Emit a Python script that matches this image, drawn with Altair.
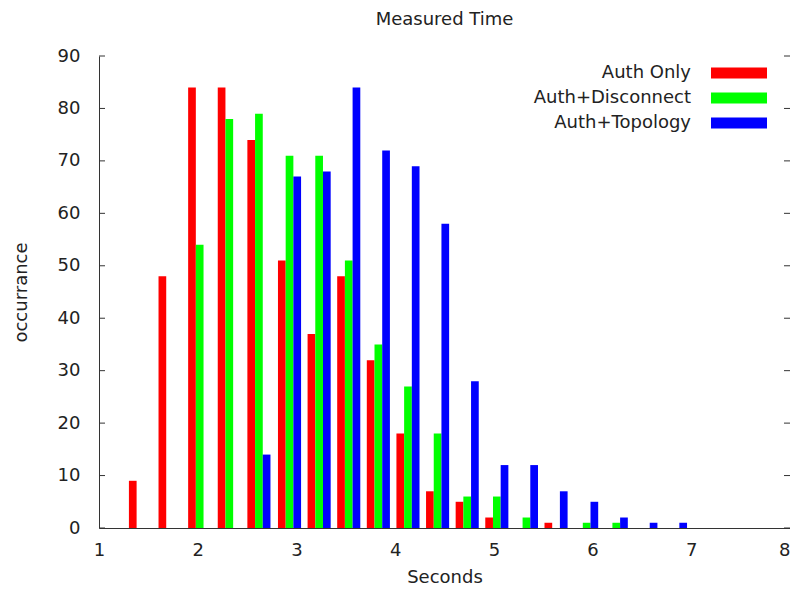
import altair as alt
import pandas as pd

# ---- data ----
group_centers = [1.42, 1.72, 2.02, 2.32, 2.62, 2.93, 3.23, 3.53, 3.83, 4.13,
                 4.43, 4.73, 5.03, 5.33, 5.63, 5.94, 6.24, 6.54, 6.84]
auth_only       = [9, 48, 84, 84, 74, 51, 37, 48, 32, 18, 7, 5, 2, 0, 1, 0, 0, 0, 0]
auth_disconnect = [0, 0, 54, 78, 79, 71, 71, 51, 35, 27, 18, 6, 6, 2, 0, 1, 1, 0, 0]
auth_topology   = [0, 0, 0, 0, 14, 67, 68, 84, 72, 69, 58, 28, 12, 12, 7, 5, 2, 1, 1]
series_names = ["Auth Only", "Auth+Disconnect", "Auth+Topology"]
series_colors = ["#ff0000", "#00ff00", "#0000ff"]
x_ticks = [1, 2, 3, 4, 5, 6, 7, 8]
y_ticks = [0, 10, 20, 30, 40, 50, 60, 70, 80, 90]
bar_width = 0.078

W, H = 691, 472
FONT = "DejaVu Sans"
TXT = "#222222"

rows = []
for si, (name, vals) in enumerate(zip(series_names, [auth_only, auth_disconnect, auth_topology])):
    for c, v in zip(group_centers, vals):
        if v > 0:
            mid = c + (si - 1) * bar_width
            rows.append({"series": name, "x0": mid - bar_width / 2,
                         "x1": mid + bar_width / 2, "value": v})
bars_df = pd.DataFrame(rows)
ticks_df = pd.DataFrame({"value": y_ticks})
legend_df = pd.DataFrame({"series": series_names})

color = alt.Color("series:N", scale=alt.Scale(domain=series_names, range=series_colors), legend=None)
yscale = alt.Scale(domain=[0, 90], nice=False)
y_axis = alt.Axis(values=y_ticks, title="occurrance", grid=False, ticks=False,
                  labelPadding=19, titlePadding=27)

bars = alt.Chart(bars_df).mark_rect().encode(
    x=alt.X("x0:Q", scale=alt.Scale(domain=[1, 8], nice=False, zero=False),
            axis=alt.Axis(values=x_ticks, title="Seconds", grid=False, ticks=False,
                          labelFlush=False, labelPadding=13, titlePadding=9, format="d",
                          labelAlign={"condition": {"test": "datum.value == 8", "value": "right"},
                                      "value": "center"})),
    x2="x1:Q",
    y=alt.Y("value:Q", scale=yscale, axis=y_axis),
    color=color,
)

left_ticks = alt.Chart(ticks_df).mark_rule(color="#333333", strokeWidth=1).encode(
    y=alt.Y("value:Q", scale=yscale, axis=y_axis), x=alt.value(0), x2=alt.value(6))
right_ticks = alt.Chart(ticks_df).mark_rule(color="#333333", strokeWidth=1).encode(
    y=alt.Y("value:Q", scale=yscale, axis=y_axis), x=alt.value(W - 6), x2=alt.value(W))

leg_base = alt.Chart(legend_df).transform_window(row="row_number()")
leg_y = alt.Y("row:Q", scale=alt.Scale(domain=[1, 3], range=[17, 67], zero=False, nice=False), axis=None)
leg_text = leg_base.mark_text(align="right", baseline="middle", fontSize=18,
                              font=FONT, color=TXT).encode(
    y=leg_y, x=alt.value(592), text="series:N")
leg_sw = leg_base.mark_rule(strokeWidth=11).encode(
    y=leg_y, x=alt.value(612), x2=alt.value(668), color=color)

bars_layer = alt.layer(bars, left_ticks, right_ticks)
leg_layer = alt.layer(leg_text, leg_sw)

chart = alt.layer(bars_layer, leg_layer).resolve_scale(y="independent").properties(
    width=W, height=H,
    title=alt.TitleParams("Measured Time", fontSize=18, font=FONT, fontWeight="normal",
                          color=TXT, offset=18, anchor="middle"),
    autosize=alt.AutoSizeParams(type="none"),
    padding={"left": 91, "top": 48, "right": 0, "bottom": 60},
).configure_view(stroke=None).configure_axis(
    labelFont=FONT, titleFont=FONT, labelFontSize=18, titleFontSize=18,
    titleFontWeight="normal", labelColor=TXT, titleColor=TXT,
    domainColor="#333333", domainWidth=1,
)

chart.save("out.html", embed_options={"renderer": "svg", "actions": False})
